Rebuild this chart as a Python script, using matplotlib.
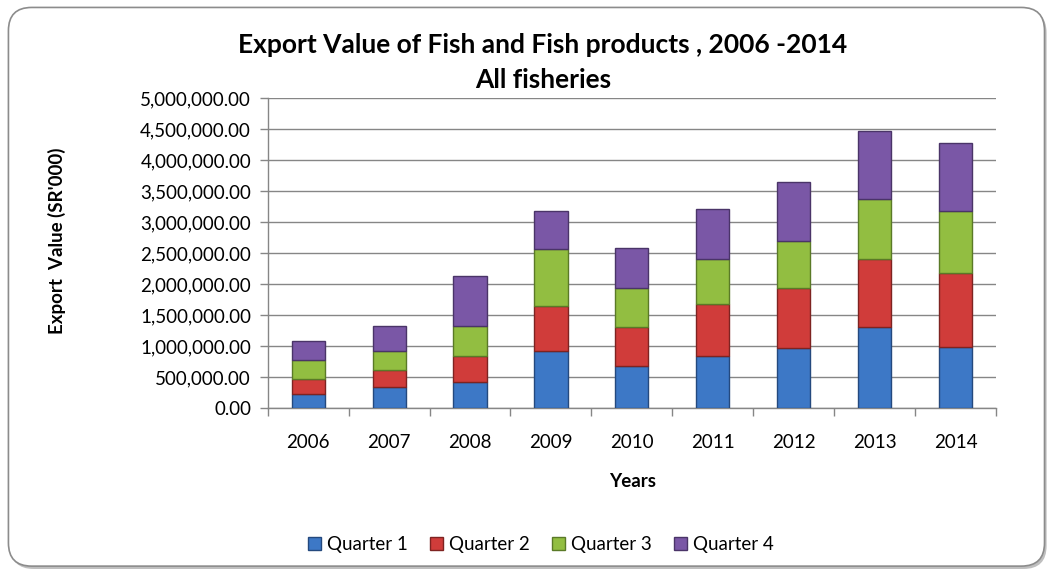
import matplotlib
matplotlib.use("Agg")
import matplotlib.pyplot as plt
from matplotlib.patches import FancyBboxPatch
from matplotlib.ticker import FuncFormatter, FixedLocator
import numpy as np

plt.rcParams['font.family'] = ['Lato', 'DejaVu Sans']

years = ['2006', '2007', '2008', '2009', '2010', '2011', '2012', '2013', '2014']
q1 = [230000, 340000, 420000, 920000, 680000, 840000, 970000, 1310000, 980000]
q2 = [230000, 270000, 420000, 730000, 630000, 840000, 960000, 1090000, 1190000]
q3 = [310000, 310000, 490000, 910000, 620000, 730000, 770000, 970000, 1000000]
q4 = [310000, 410000, 800000, 620000, 650000, 800000, 940000, 1100000, 1100000]
series_names = ['Quarter 1', 'Quarter 2', 'Quarter 3', 'Quarter 4']
colors = ['#3D78C6', '#D03C3A', '#92BE41', '#7A57A6']
edges = ['#24497E', '#7E2321', '#5A7A27', '#4A3468']

fig = plt.figure(figsize=(10.54, 5.73), dpi=100)

# outer rounded frame with subtle shadow
shadow = FancyBboxPatch((0.010, 0.007), 0.983, 0.976,
                        boxstyle="round,pad=0,rounding_size=0.022",
                        transform=fig.transFigure, facecolor='#BFBFBF',
                        edgecolor='none', zorder=-2, mutation_aspect=1054/573)
frame = FancyBboxPatch((0.008, 0.012), 0.983, 0.975,
                       boxstyle="round,pad=0,rounding_size=0.022",
                       transform=fig.transFigure, facecolor='white',
                       edgecolor='#8C8C8C', linewidth=1.2, zorder=-1,
                       mutation_aspect=1054/573)
fig.patches.extend([shadow, frame])

ax = fig.add_axes([0.254, 0.288, 0.691, 0.541])
ax.set_zorder(2)
ax.set_facecolor('none')
x = np.arange(len(years))
bottom = np.zeros(len(years))
handles = []
for vals, name, c, e in zip([q1, q2, q3, q4], series_names, colors, edges):
    b = ax.bar(x, vals, width=0.41, bottom=bottom, color=c, edgecolor=e,
               linewidth=1.0, label=name, zorder=3)
    handles.append(b)
    bottom += np.array(vals)

ax.set_xlim(-0.5, len(years) - 0.5)
ax.set_ylim(0, 5000000)
ax.set_yticks(np.arange(0, 5000001, 500000))
ax.yaxis.set_major_formatter(FuncFormatter(lambda v, p: f'{v:,.2f}'))
ax.grid(axis='y', color='#868686', linewidth=1.0, zorder=0)
ax.set_axisbelow(True)

ax.xaxis.set_major_locator(FixedLocator(np.arange(-0.5, len(years), 1.0)))
ax.xaxis.set_major_formatter(FuncFormatter(lambda v, p: ''))
ax.xaxis.set_minor_locator(FixedLocator(x))
ax.set_xticklabels(years, minor=True)
ax.tick_params(axis='x', which='major', length=6, color='#868686', width=1)
ax.tick_params(axis='x', which='minor', length=0, pad=19, labelsize=13.5, labelcolor='black')
ax.tick_params(axis='y', length=6, color='#868686', width=1, labelsize=13.5, pad=6)

for s in ['top', 'right']:
    ax.spines[s].set_visible(False)
for s in ['left', 'bottom']:
    ax.spines[s].set_color('#868686')
    ax.spines[s].set_linewidth(1.0)

fig.text(0.515, 0.921, 'Export Value of Fish and Fish products , 2006 -2014',
         ha='center', va='center', fontsize=19, fontweight='bold')
fig.text(0.515, 0.860, 'All fisheries', ha='center', va='center',
         fontsize=19, fontweight='bold')
fig.text(0.054, 0.579, "Export  Value (SR'000)", rotation=90, ha='center',
         va='center', fontsize=13.5, fontweight='bold')
fig.text(0.6, 0.159, 'Years', ha='center', va='center', fontsize=13.5, fontweight='bold')

fig.legend(handles=handles, labels=series_names, loc='center',
           bbox_to_anchor=(0.513, 0.049), ncol=4, frameon=False, fontsize=13.5,
           handlelength=0.7, handleheight=0.7, handletextpad=0.3,
           columnspacing=1.2)

fig.savefig('out.png', dpi=100)
